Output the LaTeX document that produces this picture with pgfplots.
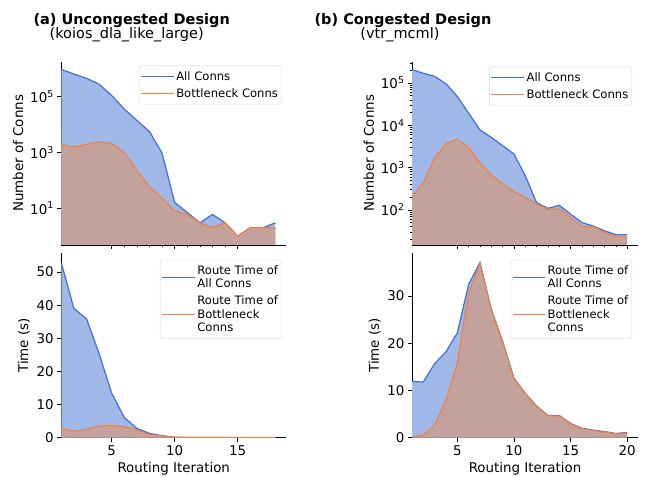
\documentclass[border=0pt]{standalone}
\usepackage{fontspec}
\setmainfont{DejaVu Sans}
\usepackage{pgfplots}
\usepackage{pgfplotstable}
\pgfplotsset{compat=1.18}

\definecolor{allline}{RGB}{65,110,220}
\definecolor{allfill}{RGB}{160,184,231}
\definecolor{botline}{RGB}{240,128,70}
\definecolor{botfill}{RGB}{196,162,156}
\definecolor{legedge}{RGB}{214,214,214}

\pgfplotstableread{
x all bot
1 950000 1950
2 650000 1550
3 460000 1950
4 280000 2400
5 110000 2100
6 36000 980
7 14000 222
8 5600 59
9 940 23
10 16 8
11 7 6
12 3 3
13 6 2
14 3 3
15 1 1
16 2 2
17 2 2
18 3 2
}\tlconn

\pgfplotstableread{
x all bot
1 210000 205
2 170000 430
3 144000 1730
4 96000 3600
5 48000 4700
6 19400 3000
7 7800 1300
8 5200 670
9 3300 410
10 2100 270
11 640 199
12 148 138
13 109 103
14 128 105
15 80 68
16 50 40
17 41.5 40
18 32 29.5
19 26 23.5
20 26 23.5
}\trconn

\pgfplotstableread{
x all bot
1 52.8 2.8
2 39.0 2.0
3 35.9 2.5
4 25.4 3.5
5 13.4 3.7
6 6.1 3.3
7 2.8 2.3
8 1.3 1.0
9 0.6 0.5
10 0.15 0.12
11 0.08 0.06
12 0.05 0.04
13 0.05 0.04
14 0.04 0.03
15 0.03 0.03
16 0.03 0.03
17 0.03 0.03
18 0.03 0.03
}\bltime

\pgfplotstableread{
x all bot
1 11.9 0.2
2 11.8 0.5
3 15.7 2.7
4 18.2 7.9
5 22.2 15.8
6 32.5 30.7
7 37.1 36.9
8 27.2 27.0
9 20.4 20.2
10 12.6 12.5
11 9.4 9.3
12 6.7 6.6
13 4.7 4.6
14 4.7 4.6
15 3.0 2.9
16 2.0 1.9
17 1.6 1.5
18 1.3 1.2
19 0.9 0.8
20 1.1 1.0
}\brtime

\pgfplotsset{
  base/.style={
    scale only axis,
    anchor=south west,
    axis lines*=left,
    axis line style={line width=0.8pt},
    tick align=outside,
    major tick length=4pt,
    minor tick length=2pt,
    tick style={black, line width=0.8pt},
    minor tick style={line width=0.6pt},
    tick label style={font=\fontsize{13.4}{16}\selectfont},
    label style={font=\fontsize{13.4}{16}\selectfont},
    /pgf/number format/assume math mode=true,
    xmin=1,
    legend cell align=left,
    legend image code/.code={%
      \path (-4pt,0pt) -- (28.5pt,0pt);
      \draw[##1, line width=1.4pt] (0pt,0pt) -- (25pt,0pt);},
    legend style={
      font=\fontsize{11.6}{13.4}\selectfont,
      draw=legedge, rounded corners=2.5pt, fill=white,
      inner xsep=1.5pt, inner ysep=3.6pt,
      cells={anchor=west, align=left},
      row sep=2.5pt,
    },
  },
  topax/.style={base, xticklabels={}, minor x tick num=4,
    ylabel={Number of Conns}},
  botax/.style={base, ymin=0, ylabel={Time (s)}, xlabel={Routing Iteration}},
}

\begin{document}
\begin{tikzpicture}
\path[use as bounding box] (0pt,0pt) rectangle (652pt,476pt);

\node[font=\bfseries\fontsize{14.5}{17}\selectfont] at (131.7pt,455.7pt) {(a) Uncongested Design};
\node[font=\fontsize{14.5}{17}\selectfont] at (126.7pt,441.5pt) {(koios\_dla\_like\_large)};
\node[font=\bfseries\fontsize{14.5}{17}\selectfont] at (403pt,455.7pt) {(b) Congested Design};
\node[font=\fontsize{14.5}{17}\selectfont] at (400pt,441.5pt) {(vtr\_mcml)};

% top-left
\begin{axis}[ymode=log, log origin y=infty, topax, at={(61.3pt,231pt)}, width=224.9pt, height=183.3pt,
  xmax=18.85, ymin=0.48, ymax=1.8e6,
  xtick={5,10,15},
  ytick={10,1000,100000},
  yticklabels={10\textsuperscript{1},10\textsuperscript{3},10\textsuperscript{5}},
  legend style={at={(1,1)}, anchor=north east, xshift=-4.5pt, yshift=-4pt}]
\addplot[draw=none, fill=allfill, forget plot] table[x=x,y=all] {\tlconn} \closedcycle;
\addplot[color=allline, line width=1.2pt] table[x=x,y=all] {\tlconn};
\addlegendentry{All Conns}
\addplot[draw=none, fill=botfill, forget plot] table[x=x,y=bot] {\tlconn} \closedcycle;
\addplot[color=botline, line width=1.2pt] table[x=x,y=bot] {\tlconn};
\addlegendentry{Bottleneck Conns}
\end{axis}

% top-right
\begin{axis}[ymode=log, log origin y=infty, topax, at={(412pt,231pt)}, width=226pt, height=183.3pt,
  xmax=20.95, ymin=14.8, ymax=3.2e5,
  xtick={5,10,15,20},
  ytick={100,1000,10000,100000},
  minor ytick={20,30,40,50,60,70,80,90,200,300,400,500,600,700,800,900,2000,3000,4000,5000,6000,7000,8000,9000,20000,30000,40000,50000,60000,70000,80000,90000,200000,300000},
  yticklabels={10\textsuperscript{2},10\textsuperscript{3},10\textsuperscript{4},10\textsuperscript{5}},
  legend style={at={(1,1)}, anchor=north east, xshift=-6pt, yshift=-5pt}]
\addplot[draw=none, fill=allfill, forget plot] table[x=x,y=all] {\trconn} \closedcycle;
\addplot[color=allline, line width=1.2pt] table[x=x,y=all] {\trconn};
\addlegendentry{All Conns}
\addplot[draw=none, fill=botfill, forget plot] table[x=x,y=bot] {\trconn} \closedcycle;
\addplot[color=botline, line width=1.2pt] table[x=x,y=bot] {\trconn};
\addlegendentry{Bottleneck Conns}
\end{axis}

% bottom-left
\begin{axis}[botax, at={(61.3pt,38.3pt)}, width=224.9pt, height=184.4pt,
  xmax=18.85, ymax=55.65,
  xtick={5,10,15}, ytick={0,10,20,30,40,50},
  legend style={at={(1,1)}, anchor=north east, xshift=-4.5pt, yshift=-6.5pt}]
\addplot[draw=none, fill=allfill, forget plot] table[x=x,y=all] {\bltime} \closedcycle;
\addplot[color=allline, line width=1.2pt] table[x=x,y=all] {\bltime};
\addlegendentry{Route Time of\\All Conns}
\addplot[draw=none, fill=botfill, forget plot] table[x=x,y=bot] {\bltime} \closedcycle;
\addplot[color=botline, line width=1.2pt] table[x=x,y=bot] {\bltime};
\addlegendentry{Route Time of\\Bottleneck\\Conns}
\end{axis}

% bottom-right
\begin{axis}[botax, at={(412pt,38.3pt)}, width=226pt, height=184.4pt,
  xmax=20.95, ymax=39.06,
  xtick={5,10,15,20}, ytick={0,10,20,30},
  legend style={at={(1,1)}, anchor=north east, xshift=-6pt, yshift=-6.5pt}]
\addplot[draw=none, fill=allfill, forget plot] table[x=x,y=all] {\brtime} \closedcycle;
\addplot[color=allline, line width=1.2pt] table[x=x,y=all] {\brtime};
\addlegendentry{Route Time of\\All Conns}
\addplot[draw=none, fill=botfill, forget plot] table[x=x,y=bot] {\brtime} \closedcycle;
\addplot[color=botline, line width=1.2pt] table[x=x,y=bot] {\brtime};
\addlegendentry{Route Time of\\Bottleneck\\Conns}
\end{axis}
\end{tikzpicture}
\end{document}
